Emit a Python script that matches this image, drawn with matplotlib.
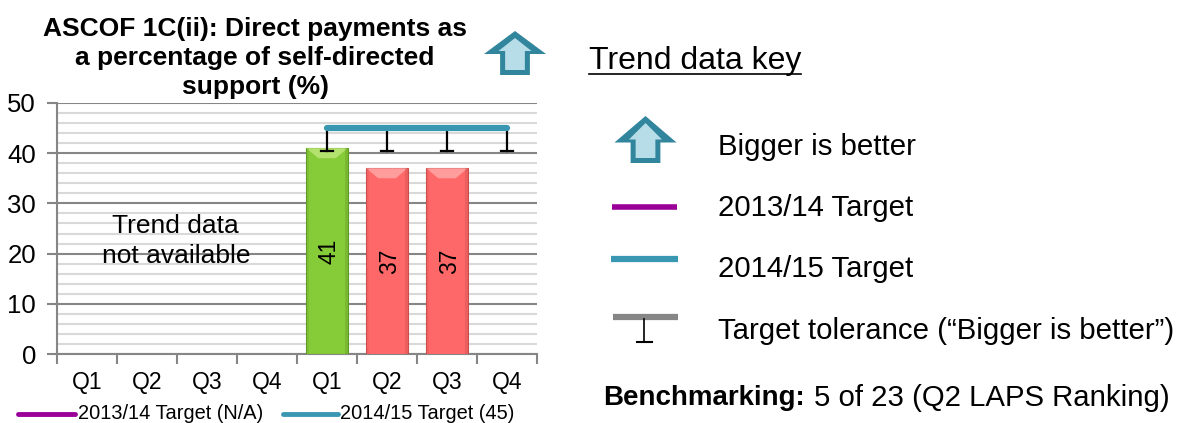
import numpy as np
import matplotlib
matplotlib.use('Agg')
import matplotlib.pyplot as plt
from matplotlib.patches import Polygon, Rectangle

plt.rcParams['font.family'] = ['Liberation Sans', 'DejaVu Sans']

W, H = 1190, 423

quarters = ['Q1', 'Q2', 'Q3', 'Q4', 'Q1', 'Q2', 'Q3', 'Q4']
values = [None, None, None, None, 41, 37, 37, None]
target_1415 = [None, None, None, None, 45, 45, 45, 45]
tolerance = [None, None, None, None, 40.5, 40.5, 40.5, 40.5]
bar_colours = {41: ('#86CB38', '#B4E26E', '#5F9A24'), 37: ('#FF6868', '#FF9C9C', '#C94F4F')}

TEAL = '#3A97B1'
PURPLE = '#9A0098'
ARROW_DARK = '#31859C'
ARROW_LIGHT = '#B7DDE8'

fig = plt.figure(figsize=(W / 100, H / 100), dpi=100)

# main chart, placed by pixels
left, right, top, bottom = 57, 537, 103, 354
ax = fig.add_axes([left / W, 1 - bottom / H, (right - left) / W, (bottom - top) / H])
ax.set_xlim(0, 8)
ax.set_ylim(0, 50)
ax.set_yticks(range(0, 51, 10))
ax.set_yticks(range(0, 51, 2), minor=True)
ax.set_xticks(range(0, 9))
ax.set_xticklabels([])
ax.tick_params(axis='y', which='minor', length=0)
ax.tick_params(axis='y', which='major', length=7, width=1.5, color='#868686', labelsize=18.5, pad=8)
ax.tick_params(axis='x', which='major', length=7, width=1.5, color='#868686')
ax.grid(which='minor', axis='y', color='#D9D9D9', lw=1.5)
ax.grid(which='major', axis='y', color='#868686', lw=1.5)
ax.set_axisbelow(True)
for s in ['top', 'right']:
    ax.spines[s].set_visible(False)
for s in ['left', 'bottom']:
    ax.spines[s].set_color('#868686')
    ax.spines[s].set_linewidth(1.5)

for i, q in enumerate(quarters):
    ax.text(i + 0.5, -5.7, q, ha='center', va='center', fontsize=16.5)

# bars with a bevelled top
bar_w = 0.69
for i, v in enumerate(values):
    if v is None:
        continue
    main, light, dark = bar_colours[v]
    x0 = i + 0.5 - bar_w / 2
    x1 = i + 0.5 + bar_w / 2
    ax.bar(i + 0.5, v, width=bar_w, color=main, edgecolor=dark, linewidth=0.8, zorder=3)
    ax.add_patch(Polygon([[x0, v], [x1, v], [x1 - 0.2, v - 2.0], [x0 + 0.2, v - 2.0]],
                         closed=True, facecolor=light, edgecolor='none', zorder=4))
    ax.add_patch(Rectangle((x1 - 0.05, 0), 0.05, v, facecolor=dark, alpha=0.35, edgecolor='none', zorder=4))
    ax.add_patch(Rectangle((x0, 0), 0.04, v, facecolor=dark, alpha=0.2, edgecolor='none', zorder=4))
    ax.text(i + 0.54, v / 2, str(v), rotation=90, ha='center', va='center', fontsize=16.5, zorder=5)

# tolerance stems and the target line
for i, (t, tol) in enumerate(zip(target_1415, tolerance)):
    if t is None:
        continue
    ax.plot([i + 0.5, i + 0.5], [tol, t], color='black', lw=1.6, zorder=6, clip_on=False)
    ax.plot([i + 0.5 - 0.1, i + 0.5 + 0.1], [tol, tol], color='black', lw=1.6, zorder=6)
xs = [i + 0.5 for i, t in enumerate(target_1415) if t is not None]
ys = [t for t in target_1415 if t is not None]
ax.plot(xs, ys, color=TEAL, lw=4.5, solid_capstyle='round', zorder=7)

ax.text(1.98, 22.5, 'Trend data\nnot available', ha='center', va='center', fontsize=19,
        linespacing=1.28, zorder=5)

# everything else in pixel coordinates of the whole figure
ov = fig.add_axes([0, 0, 1, 1])
ov.set_xlim(0, W)
ov.set_ylim(H, 0)
ov.axis('off')
ov.patch.set_alpha(0)


def up_arrow(cx, tip, wing, base, half):
    shaft = half * 0.48
    outer = [[cx, tip], [cx + half, wing], [cx + shaft, wing], [cx + shaft, base],
             [cx - shaft, base], [cx - shaft, wing], [cx - half, wing]]
    t = 5
    inner = [[cx, tip + t + 2], [cx + half - 2.9 * t, wing - 0.6 * t], [cx + shaft - t, wing - 0.6 * t],
             [cx + shaft - t, base - t], [cx - shaft + t, base - t], [cx - shaft + t, wing - 0.6 * t],
             [cx - half + 2.9 * t, wing - 0.6 * t]]
    ov.add_patch(Polygon(outer, closed=True, facecolor=ARROW_DARK, edgecolor='none'))
    ov.add_patch(Polygon(inner, closed=True, facecolor=ARROW_LIGHT, edgecolor='none'))


up_arrow(515, 31, 54, 75, 31)
up_arrow(645.5, 116, 142.5, 163, 31)

ov.text(255, 58, 'ASCOF 1C(ii): Direct payments as\na percentage of self-directed\nsupport (%)',
        ha='center', va='center', fontsize=19, fontweight='bold', linespacing=1.25)

# legend below the chart
ov.plot([18, 75], [414, 414], color=PURPLE, lw=3.5, solid_capstyle='round')
ov.text(78, 413.5, '2013/14 Target (N/A)', ha='left', va='center', fontsize=14.4)
ov.plot([283, 338], [414, 414], color=TEAL, lw=3.5, solid_capstyle='round')
ov.text(340, 413.5, '2014/15 Target (45)', ha='left', va='center', fontsize=14.4)

# trend data key
ov.text(589, 61, 'Trend data key', ha='left', va='center', fontsize=23)
ov.plot([589, 801], [74, 74], color='black', lw=1.2)
ov.plot([612, 677], [207, 207], color=PURPLE, lw=4, solid_capstyle='butt')
ov.plot([611, 678], [259, 259], color=TEAL, lw=4.5, solid_capstyle='butt')
ov.plot([613, 678], [317, 317], color='#868686', lw=4.5, solid_capstyle='butt')
ov.plot([644, 644], [319, 342], color='black', lw=1.2)
ov.plot([637, 652], [342, 342], color='black', lw=1.5)
ov.text(718, 147, 'Bigger is better', ha='left', va='center', fontsize=21.15)
ov.text(718, 208, '2013/14 Target', ha='left', va='center', fontsize=21.15)
ov.text(718, 269, '2014/15 Target', ha='left', va='center', fontsize=21.15)
ov.text(718, 331, 'Target tolerance (\u201cBigger is better\u201d)', ha='left', va='center', fontsize=21.15)
ov.text(603, 398, 'Benchmarking:', ha='left', va='center', fontsize=20, fontweight='bold')
ov.text(814, 398, '5 of 23 (Q2 LAPS Ranking)', ha='left', va='center', fontsize=21.2)

fig.savefig('out.png', dpi=100)
